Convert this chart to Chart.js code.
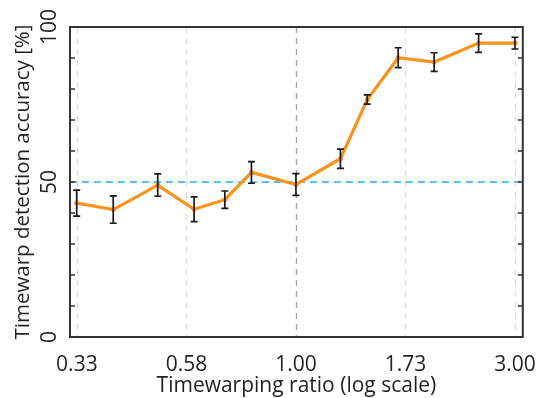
<!DOCTYPE html>
<html>
<head>
<meta charset="utf-8">
<script src="https://cdn.jsdelivr.net/npm/chart.js@4.4.1/dist/chart.umd.min.js"></script>
<style>
  html, body { margin: 0; padding: 0; background: #fff; }
</style>
</head>
<body>
<canvas id="AccuracyChart" width="543" height="398"></canvas>
<script>
// timewarp ratios (log scale) with mean accuracy and error
const ratios = [0.333, 0.4, 0.5, 0.6, 0.7, 0.8, 1.0, 1.25, 1.43, 1.67, 2.0, 2.5, 3.0];
const accuracy = [43.2, 41.1, 49.0, 41.2, 44.3, 53.1, 49.2, 57.5, 76.6, 90.1, 88.7, 94.8, 94.8];
const accuracyErr = [4.2, 4.4, 3.6, 4.0, 2.8, 3.5, 3.5, 3.1, 1.5, 3.2, 3.0, 3.0, 1.9];
const xTicks = [0.3333, 0.5774, 1.0, 1.7321, 3.0];
const xTickLabels = ['0.33', '0.58', '1.00', '1.73', '3.00'];
const yTickLabels = [0, 50, 100];
const chanceLevel = 50;
const xMin = 0.322;
const xMax = 3.12;

const fontFamily = '"Open Sans", "Noto Sans", sans-serif';
const textColor = '#231f20';

// frame, inward ticks, dashed grid and rotated y labels
const decorations = {
  id: 'decorations',
  beforeDatasetsDraw(chart) {
    const {ctx, chartArea: a, scales: {x}} = chart;
    ctx.save();
    ctx.lineWidth = 1.3;
    ctx.setLineDash([6, 5]);
    xTicks.forEach(v => {
      const px = Math.round(x.getPixelForValue(v)) + 0.5;
      ctx.strokeStyle = v === 1.0 ? '#a6a6a6' : '#dcdcdc';
      ctx.beginPath();
      ctx.moveTo(px, a.top);
      ctx.lineTo(px, a.bottom);
      ctx.stroke();
    });
    ctx.restore();
  },
  afterDatasetsDraw(chart) {
    const {ctx, chartArea: a, scales: {x, y}} = chart;
    ctx.save();
    // error bars
    ctx.strokeStyle = '#1a1a1a';
    ctx.lineWidth = 1.7;
    ratios.forEach((r, i) => {
      const px = x.getPixelForValue(r);
      const top = y.getPixelForValue(accuracy[i] + accuracyErr[i]);
      const bot = y.getPixelForValue(accuracy[i] - accuracyErr[i]);
      ctx.beginPath();
      ctx.moveTo(px, top); ctx.lineTo(px, bot);
      ctx.moveTo(px - 3.5, top); ctx.lineTo(px + 3.5, top);
      ctx.moveTo(px - 3.5, bot); ctx.lineTo(px + 3.5, bot);
      ctx.stroke();
    });
    // inward tick marks
    ctx.strokeStyle = '#333';
    ctx.lineWidth = 1.5;
    for (let v = 10; v < 100; v += 10) {
      const py = y.getPixelForValue(v);
      ctx.beginPath();
      ctx.moveTo(a.left, py); ctx.lineTo(a.left + 5, py);
      ctx.moveTo(a.right, py); ctx.lineTo(a.right - 5, py);
      ctx.stroke();
    }
    // frame
    ctx.lineWidth = 2;
    ctx.strokeRect(a.left, a.top, a.right - a.left, a.bottom - a.top);
    // y tick labels, rotated like the original
    ctx.fillStyle = textColor;
    ctx.font = '21px ' + fontFamily;
    ctx.textAlign = 'center';
    ctx.textBaseline = 'middle';
    yTickLabels.forEach(v => {
      ctx.save();
      ctx.translate(50, y.getPixelForValue(v));
      ctx.rotate(-Math.PI / 2);
      ctx.fillText(String(v), 0, 0);
      ctx.restore();
    });
    ctx.restore();
  }
};

const accuracyChart = document.getElementById('AccuracyChart');
new Chart(accuracyChart, {
  type: 'line',
  data: {
    datasets: [{
      label: 'Accuracy',
      data: ratios.map((r, i) => ({ x: r, y: accuracy[i] })),
      borderColor: '#f7931e',
      backgroundColor: '#f7931e',
      borderWidth: 3.2,
      pointRadius: 2.5,
      pointBorderWidth: 0,
      tension: 0
    }, {
      label: 'Chance',
      data: [{ x: xMin, y: chanceLevel }, { x: xMax, y: chanceLevel }],
      borderColor: '#29abe2',
      borderWidth: 1.5,
      borderDash: [7, 5],
      pointRadius: 0
    }]
  },
  options: {
    responsive: false,
    animation: false,
    layout: { padding: { left: 0, right: 15, top: 27, bottom: 0 } },
    plugins: { legend: { display: false }, tooltip: { enabled: false } },
    scales: {
      x: {
        type: 'logarithmic',
        bounds: 'data',
        min: xMin,
        max: xMax,
        afterBuildTicks: scale => {
          scale.ticks = xTicks.map(v => ({ value: v }));
          scale.min = xMin; // log scale rounds the limits, put them back
          scale.max = xMax;
        },
        afterFit: scale => { scale.height = 61; },
        grid: { display: false },
        border: { display: false },
        ticks: {
          callback: (v, i) => xTickLabels[i],
          autoSkip: false,
          maxRotation: 0,
          padding: 7,
          color: textColor,
          font: { family: fontFamily, size: 21 }
        },
        title: {
          display: true,
          text: 'Timewarping ratio (log scale)',
          color: textColor,
          padding: { top: 0, bottom: 0 },
          font: { family: fontFamily, size: 21, lineHeight: 1.1 }
        }
      },
      y: {
        min: 0,
        max: 100,
        afterFit: scale => { scale.width = 70; },
        grid: { display: false },
        border: { display: false },
        ticks: { display: false, stepSize: 10 },
        title: {
          display: true,
          text: 'Timewarp detection accuracy [%]',
          color: textColor,
          padding: { top: 11, bottom: 0 },
          font: { family: fontFamily, size: 20.5 }
        }
      }
    }
  },
  plugins: [decorations]
});
</script>
</body>
</html>
